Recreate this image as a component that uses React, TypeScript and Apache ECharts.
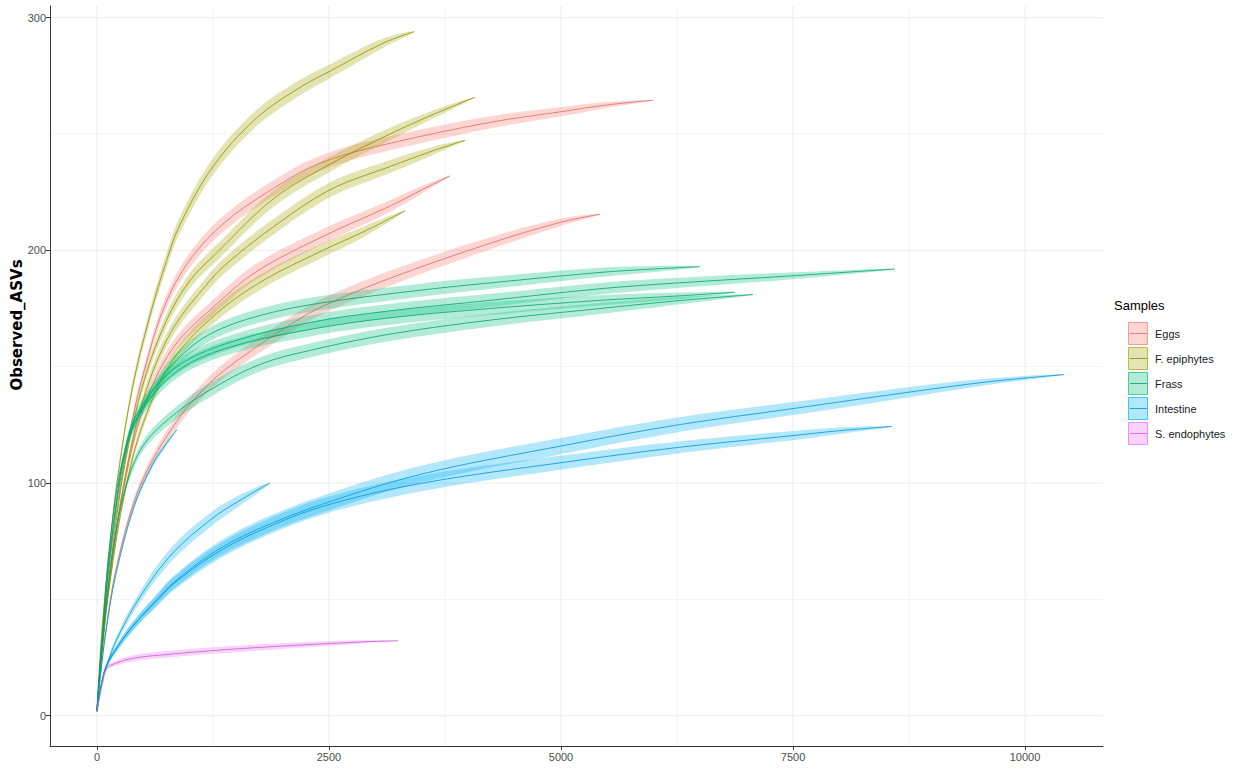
import { useEffect, useRef } from "react";
import * as echarts from "echarts";

// Each point: [sequencing depth, observed ASVs, ribbon half-width]
type Pt = [number, number, number];

const eggs1: Pt[] = [[0, 2, 0], [60, 36, 0.5], [150, 70, 1], [300, 110, 1.7], [500, 147, 2.3], [819, 184, 3], [1293, 209, 3.4], [2080, 231, 3.4], [2511, 239, 3.2], [3157, 246, 3], [4235, 255, 2.6], [4989, 259.5, 2], [5500, 262.5, 1.2], [5991, 264.5, 0]];
const eggs2: Pt[] = [[0, 2, 0], [60, 30, 0.5], [150, 62, 1], [300, 100, 1.7], [500, 132, 2.4], [819, 158, 3], [1293, 177, 3.3], [1724, 191, 3.4], [2435, 206, 3.2], [3157, 219, 2.5], [3500, 226, 1.6], [3804, 232, 0]];
const eggs3: Pt[] = [[0, 2, 0], [50, 22, 0.5], [100, 38, 0.8], [200, 62, 1.2], [400, 92, 1.8], [600, 110, 2.3], [819, 124, 2.7], [1002, 134, 3], [1358, 148, 3.2], [2080, 168, 3.4], [2435, 176, 3.4], [3157, 188, 3.2], [4235, 203, 2.6], [4989, 212, 1.6], [5420, 215.5, 0]];

const fepi1: Pt[] = [[0, 2, 0], [50, 35, 0.5], [140, 74, 1.2], [215, 100, 1.8], [377, 140, 2.5], [571, 172, 3], [754, 196, 3.3], [894, 211, 3.5], [1250, 236, 3.6], [1724, 257, 3.5], [2188, 270, 3.3], [2511, 277, 3], [3082, 289, 2], [3420, 294, 0]];
const fepi2: Pt[] = [[0, 2, 0], [60, 33, 0.5], [150, 66, 1], [300, 108, 1.8], [500, 143, 2.5], [750, 170, 3], [1002, 187, 3.3], [1293, 199, 3.5], [1897, 222, 3.5], [2511, 237, 3.2], [3157, 250, 2.7], [3600, 258, 1.8], [4073, 265.8, 0]];
const fepi3: Pt[] = [[0, 2, 0], [60, 32, 0.5], [150, 64, 1], [300, 102, 1.8], [500, 136, 2.5], [800, 165, 3], [1218, 187, 3.3], [1433, 195.5, 3.4], [1897, 210, 3.4], [2511, 226, 3.2], [3157, 236, 2.8], [3600, 242.5, 1.8], [3966, 247.3, 0]];
const fepi4: Pt[] = [[0, 2, 0], [60, 30, 0.5], [150, 60, 1], [300, 96, 1.6], [500, 126, 2.2], [819, 153, 2.8], [1293, 173, 3.2], [1789, 187, 3.3], [2435, 200, 3], [2900, 208.5, 2.2], [3319, 217, 0]];

const frass1: Pt[] = [[0, 2, 0], [50, 30, 0.5], [150, 78, 1.2], [323, 117, 2], [603, 140, 2.6], [862, 153, 3], [1218, 164, 3], [1757, 172, 3], [2435, 177.5, 3], [3513, 183, 2.8], [4235, 186, 2.6], [5420, 190.5, 2], [6000, 192, 1.3], [6498, 193, 0]];
const frass2: Pt[] = [[0, 2, 0], [50, 30, 0.5], [150, 74, 1.2], [323, 118, 2], [496, 134, 2.5], [862, 150, 3], [1401, 160, 3], [2295, 169, 3], [3157, 174, 3], [4235, 178.5, 2.8], [5420, 183.5, 2.5], [6261, 186, 2.2], [7468, 189, 1.5], [8599, 192, 0]];
const frass3: Pt[] = [[0, 2, 0], [50, 29, 0.5], [150, 72, 1.2], [323, 116, 2], [496, 132, 2.5], [862, 148, 3], [1401, 158, 3], [2295, 166, 3], [3157, 171, 3], [4235, 175, 2.8], [5420, 178.5, 2.2], [6300, 180.5, 1.4], [6875, 182, 0]];
const frass4: Pt[] = [[0, 2, 0], [50, 26, 0.5], [100, 48, 0.8], [200, 78, 1.2], [323, 100, 1.8], [496, 116, 2.2], [787, 128, 2.6], [1218, 140, 3], [1757, 151, 3], [2295, 157, 3], [3157, 164, 3], [4235, 170, 2.8], [5420, 175, 2.4], [6300, 178.5, 1.6], [7069, 181, 0]];

const intestine1: Pt[] = [[0, 2, 0], [50, 14, 0.5], [108, 22, 1], [280, 33, 1.6], [463, 42, 2], [647, 50, 2.4], [819, 57, 2.8], [1250, 70, 3.2], [1724, 80, 3.5], [2435, 91, 3.6], [3513, 104, 3.6], [5011, 116, 3.5], [6261, 125, 3.2], [7500, 132, 2.8], [8740, 139, 2.2], [9600, 143.5, 1.4], [10420, 146.6, 0]];
const intestine2: Pt[] = [[0, 2, 0], [50, 14, 0.5], [108, 22, 1], [280, 33, 1.6], [463, 42, 2], [647, 49.5, 2.4], [819, 56.5, 2.8], [1250, 69, 3.2], [1724, 79, 3.4], [2435, 90, 3.5], [3513, 100, 3.4], [5011, 108.8, 3], [6261, 115.3, 2.6], [7500, 120.4, 2], [8000, 122.5, 1.4], [8567, 124.3, 0]];
const intestine3: Pt[] = [[0, 2, 0], [50, 14, 0.5], [108, 22, 1], [215, 33, 1.5], [463, 51, 2.3], [819, 70, 3], [1250, 85, 3], [1600, 94, 2], [1864, 100, 0]];
const intestine4: Pt[] = [[0, 2, 0], [50, 22, 0.3], [100, 37, 0.5], [200, 60, 0.8], [400, 90, 1.1], [600, 108, 1.2], [750, 117, 0.9], [862, 123, 0]];

const sendo1: Pt[] = [[0, 2, 0], [60, 14, 0.5], [108, 20.5, 0.9], [200, 22.5, 1.1], [400, 24.8, 1.3], [800, 26.5, 1.4], [1250, 28, 1.4], [1800, 29.5, 1.3], [2490, 31, 1], [2900, 31.8, 0.6], [3243, 32.2, 0]];

const sampleNames = ["Eggs", "F. epiphytes", "Frass", "Intestine", "S. endophytes"];
const fillColors = ["#F8766D", "#A3A500", "#00BF7D", "#00B0F6", "#E76BF3"];
const lineColors = ["#DD6A62", "#8C8E00", "#00A26A", "#0096CF", "#C95AD6"];
const curvesBySample: Pt[][][] = [
  [eggs1, eggs2, eggs3],
  [fepi1, fepi2, fepi3, fepi4],
  [frass1, frass2, frass3, frass4],
  [intestine1, intestine2, intestine3, intestine4],
  [sendo1],
];

const xTicks = [0, 2500, 5000, 7500, 10000];
const xMinor = [1250, 3750, 6250, 8750];
const yTicks = [0, 100, 200, 300];
const yMinor = [50, 150, 250];

const X_MIN = -506;
const X_MAX = 10840;
const Y_MIN = -13;
const Y_MAX = 305;

function rgba(hex: string, a: number) {
  const n = parseInt(hex.slice(1), 16);
  return `rgba(${(n >> 16) & 255},${(n >> 8) & 255},${n & 255},${a})`;
}

function gridSeries() {
  return {
    type: "custom",
    coordinateSystem: "cartesian2d",
    silent: true,
    z: 0,
    data: [[0, 0]],
    renderItem: (_params: any, api: any) => {
      const children: any[] = [];
      const vline = (v: number, color: string) => {
        const a = api.coord([v, Y_MIN]);
        const b = api.coord([v, Y_MAX]);
        children.push({ type: "line", shape: { x1: a[0], y1: a[1], x2: b[0], y2: b[1] }, style: { stroke: color, lineWidth: 1 } });
      };
      const hline = (v: number, color: string) => {
        const a = api.coord([X_MIN, v]);
        const b = api.coord([X_MAX, v]);
        children.push({ type: "line", shape: { x1: a[0], y1: a[1], x2: b[0], y2: b[1] }, style: { stroke: color, lineWidth: 1 } });
      };
      xMinor.forEach((v) => vline(v, "#F2F2F2"));
      yMinor.forEach((v) => hline(v, "#F2F2F2"));
      xTicks.forEach((v) => vline(v, "#EBEBEB"));
      yTicks.forEach((v) => hline(v, "#EBEBEB"));
      return { type: "group", children };
    },
  };
}

function curveSeries(pts: Pt[], fill: string, line: string, z: number) {
  return {
    type: "custom",
    coordinateSystem: "cartesian2d",
    silent: true,
    clip: true,
    z,
    data: pts.map((p) => [p[0], p[1]]),
    encode: { x: 0, y: 1 },
    renderItem: (params: any, api: any) => {
      if (params.dataIndex !== 0) return null;
      const upper = pts.map((p) => api.coord([p[0], p[1] + p[2]]));
      const lower = pts
        .slice(1, -1)
        .map((p) => api.coord([p[0], p[1] - p[2]]))
        .reverse();
      const mid = pts.map((p) => api.coord([p[0], p[1]]));
      return {
        type: "group",
        children: [
          {
            type: "polygon",
            shape: { points: upper.concat(lower), smooth: 0.35 },
            style: { fill: rgba(fill, 0.3), stroke: "none" },
          },
          {
            type: "polyline",
            shape: { points: mid, smooth: 0.35 },
            style: { stroke: line, lineWidth: 0.8, fill: "none" },
          },
        ],
      };
    },
  };
}

function legendGraphics() {
  const els: any[] = [
    {
      type: "text",
      left: 1114,
      top: 299,
      style: { text: "Samples", fontSize: 13, fontFamily: "Liberation Sans, Arial, sans-serif", fill: "#000" },
    },
  ];
  sampleNames.forEach((name, i) => {
    const top = 322 + i * 25;
    els.push({
      type: "rect",
      shape: { x: 1128.5, y: top + 0.5, width: 19, height: 22 },
      style: { fill: rgba(fillColors[i], 0.3), stroke: rgba(fillColors[i], 0.7), lineWidth: 1 },
    });
    els.push({
      type: "line",
      shape: { x1: 1130, y1: top + 11.5, x2: 1147, y2: top + 11.5 },
      style: { stroke: lineColors[i], lineWidth: 0.8 },
    });
    els.push({
      type: "text",
      x: 1155,
      y: top + 11.5,
      style: {
        text: name,
        fontSize: 11,
        fontFamily: "Liberation Sans, Arial, sans-serif",
        fill: "#1a1a1a",
        textVerticalAlign: "middle",
        textAlign: "left",
      },
    });
  });
  return els;
}

export default function App() {
  const ref = useRef<HTMLDivElement>(null);

  useEffect(() => {
    if (!ref.current) return;
    const chart = echarts.init(ref.current, undefined, { renderer: "svg" });
    const series: any[] = [gridSeries()];
    let z = 2;
    curvesBySample.forEach((curves, i) => {
      curves.forEach((pts) => {
        series.push(curveSeries(pts, fillColors[i], lineColors[i], z++));
      });
    });

    const axisText = { fontSize: 11, color: "#4D4D4D", fontFamily: "Liberation Sans, Arial, sans-serif" };
    const plain = (v: number) => String(v);

    chart.setOption({
      animation: false,
      backgroundColor: "#FFFFFF",
      grid: { left: 50, right: 138, top: 6, bottom: 26, containLabel: false },
      xAxis: {
        type: "value",
        min: X_MIN,
        max: X_MAX,
        axisLine: { show: true, onZero: false, lineStyle: { color: "#333333", width: 1 } },
        axisTick: { show: true, length: 4, customValues: xTicks, lineStyle: { color: "#333333" } },
        axisLabel: { ...axisText, margin: 5, customValues: xTicks, formatter: plain },
        splitLine: { show: false },
      },
      yAxis: {
        type: "value",
        min: Y_MIN,
        max: Y_MAX,
        axisLine: { show: true, onZero: false, lineStyle: { color: "#333333", width: 1 } },
        axisTick: { show: true, length: 4, customValues: yTicks, lineStyle: { color: "#333333" } },
        axisLabel: { ...axisText, margin: 4, customValues: yTicks, formatter: plain },
        splitLine: { show: false },
      },
      graphic: [
        {
          type: "text",
          x: 17,
          y: 325,
          rotation: Math.PI / 2,
          style: {
            text: "Observed_ASVs",
            fontSize: 15,
            fontWeight: "bold",
            fontFamily: "DejaVu Sans, Verdana, sans-serif",
            fill: "#000",
            textAlign: "center",
            textVerticalAlign: "middle",
          },
        },
        ...legendGraphics(),
      ],
      series,
    });
    return () => chart.dispose();
  }, []);

  return (
    <div
      ref={ref}
      style={{ position: "fixed", left: 0, top: 0, width: 1241, height: 772, background: "#fff" }}
    />
  );
}
